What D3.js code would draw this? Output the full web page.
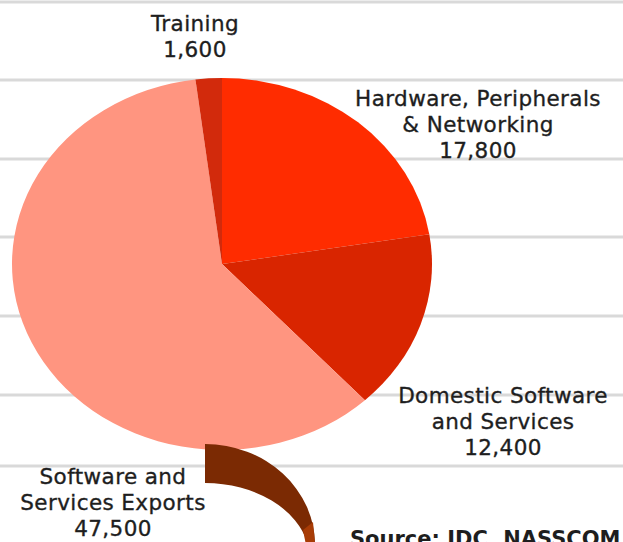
<!DOCTYPE html>
<html>
<head>
<meta charset="utf-8">
<script src="https://cdn.jsdelivr.net/npm/d3@7"></script>
<style>
  html, body { margin: 0; padding: 0; background: #fff; overflow: hidden; }
  svg { display: block; }
  text { font-family: "DejaVu Sans", Verdana, sans-serif; fill: #1e1e1e; stroke: #1e1e1e; stroke-width: 0.35px; }
</style>
</head>
<body>
<svg id="chart"></svg>
<script>
// data
const categories = ["Hardware, Peripherals & Networking", "Domestic Software and Services", "Software and Services Exports", "Training"];
const values = [17800, 12400, 47500, 1600];
const colors = ["#ff2c00", "#d92500", "#ff9580", "#d22a0c"];
const labelLines = [
  ["Hardware, Peripherals", "& Networking", "17,800"],
  ["Domestic Software", "and Services", "12,400"],
  ["Software and", "Services Exports", "47,500"],
  ["Training", "1,600"]
];
const gridRows = [2, 80, 159, 237, 316, 395, 466];

const width = 623, height = 542;
const svg = d3.select("#chart").attr("width", width).attr("height", height);

// background rules
svg.append("g")
  .selectAll("line")
  .data(gridRows)
  .join("line")
  .attr("x1", 0).attr("x2", width)
  .attr("y1", d => d).attr("y2", d => d)
  .attr("stroke", "#d9d9d9")
  .attr("stroke-width", 3);

// pie (drawn as an ellipse)
const cx = 222, cy = 264, rx = 210, ry = 186;
const pie = d3.pie().sort(null).value(d => d)(values);
const arc = d3.arc().innerRadius(0).outerRadius(ry);

svg.append("g")
  .attr("transform", `translate(${cx},${cy}) scale(${rx / ry},1)`)
  .selectAll("path")
  .data(pie)
  .join("path")
  .attr("d", arc)
  .attr("fill", (d, i) => colors[i]);

// labels
const labelPos = [
  { x: 478, y: 106 },
  { x: 503, y: 403 },
  { x: 113, y: 484 },
  { x: 195, y: 31 }
];
const lineGap = 26;

const labels = svg.append("g")
  .selectAll("text")
  .data(labelLines)
  .join("text")
  .attr("text-anchor", "middle")
  .attr("font-size", 21.5)
  .attr("letter-spacing", 0.4)
  .attr("transform", (d, i) => `translate(${labelPos[i].x},${labelPos[i].y})`);

labels.selectAll("tspan")
  .data(d => d)
  .join("tspan")
  .attr("x", 0)
  .attr("y", (d, j) => j * lineGap)
  .text(d => d);

// decorative ribbon at the bottom
svg.append("path")
  .attr("d", "M205,444 A110,101 0 0 1 315,545 L308,545 A105,77 0 0 0 205,483 Z")
  .attr("fill", "#7b2a03");
svg.append("path")
  .attr("d", "M303,530 L313,522 L315,545 L306,545 Z")
  .attr("fill", "#a83c06");

svg.append("text")
  .attr("x", 350)
  .attr("y", 546)
  .attr("font-size", 21)
  .attr("font-weight", "bold")
  .style("stroke-width", 0)
  .text("Source: IDC, NASSCOM");
</script>
</body>
</html>
